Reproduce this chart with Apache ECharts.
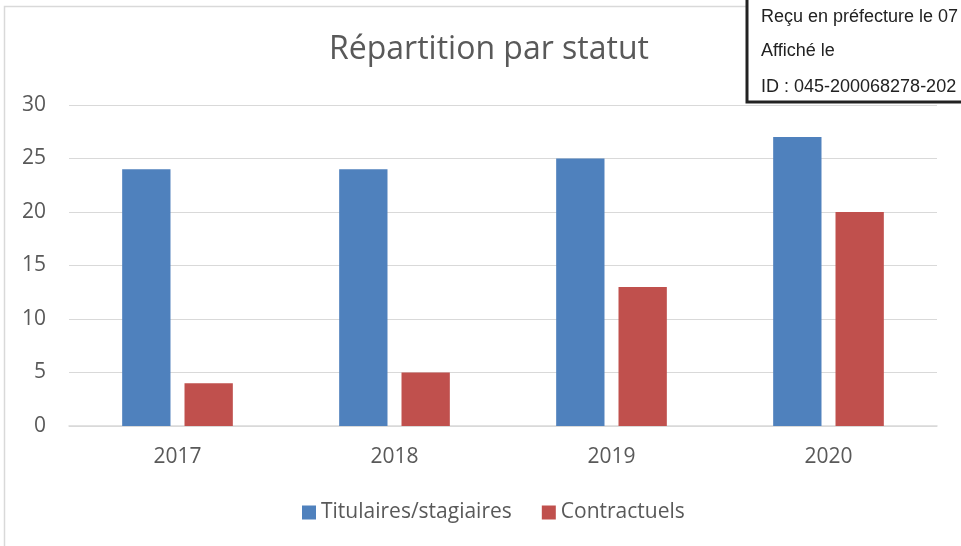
<!DOCTYPE html>
<html><head><meta charset="utf-8">
<script src="https://cdn.jsdelivr.net/npm/echarts@6/dist/echarts.min.js"></script>
<style>html,body{margin:0;padding:0;background:#fff}#c{width:961px;height:546px}</style>
</head><body><div id="c"></div>
<script>
const categories = ['2017','2018','2019','2020'];
const titulaires = [24,24,25,27];
const contractuels = [4,5,13,20];
const seriesNames = ['Titulaires/stagiaires','Contractuels'];
const stampLines = ['Reçu en préfecture le 07','Affiché le','ID : 045-200068278-202'];
const FONT = '"Open Sans", sans-serif';
const chart = echarts.init(document.getElementById('c'));
chart.setOption({
  animation:false,
  title:{text:'Répartition par statut',left:484,textAlign:'center',top:29,textStyle:{fontFamily:FONT,fontSize:32,fontWeight:'normal',color:'#595959'}},
  grid:{left:69,right:24,top:105,bottom:120},
  legend:{top:497,left:297,itemWidth:14,itemHeight:14,itemGap:30,icon:'rect',textStyle:{fontFamily:FONT,fontSize:21,color:'#595959'},data:seriesNames},
  xAxis:{type:'category',data:categories,axisLine:{lineStyle:{color:'#d9d9d9',width:1.5}},axisTick:{show:false},axisLabel:{fontFamily:FONT,fontSize:21,color:'#595959',margin:21}},
  yAxis:{type:'value',min:0,max:30,interval:5,axisLine:{show:false},axisTick:{show:false},splitLine:{lineStyle:{color:'#d9d9d9',width:1}},axisLabel:{fontFamily:FONT,fontSize:21,color:'#595959',margin:23}},
  series:[
    {name:seriesNames[0],type:'bar',data:titulaires,itemStyle:{color:'#4f81bd'},barGap:'29%',barCategoryGap:'49%'},
    {name:seriesNames[1],type:'bar',data:contractuels,itemStyle:{color:'#c0504d'}}
  ],
  graphic:[
    {type:'rect',shape:{x:4.5,y:6.5,width:1000,height:600},style:{fill:'none',stroke:'#d9d9d9',lineWidth:1.5},z:-1},
    {type:'rect',shape:{x:747,y:-5,width:230,height:107},style:{fill:'#fff',stroke:'#222',lineWidth:3},z:100},
    {type:'text',x:761,y:8,style:{text:stampLines[0],font:'18px "Liberation Sans", Arial, sans-serif',fill:'#222'},z:101},
    {type:'text',x:761,y:42,style:{text:stampLines[1],font:'18px "Liberation Sans", Arial, sans-serif',fill:'#222'},z:101},
    {type:'text',x:761,y:78,style:{text:stampLines[2],font:'18px "Liberation Sans", Arial, sans-serif',fill:'#222'},z:101}
  ]
});
</script></body></html>
